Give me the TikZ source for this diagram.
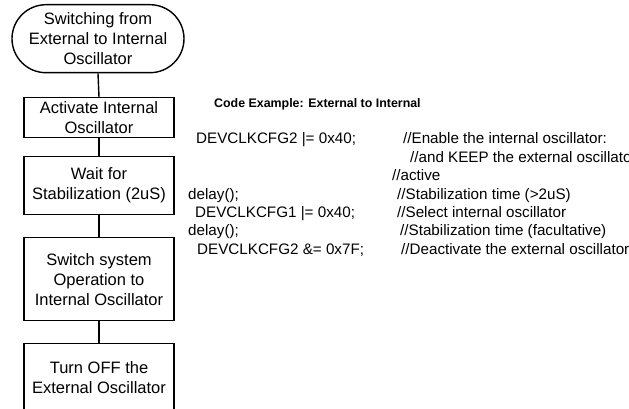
\documentclass[tikz,border=0pt]{standalone}
\usepackage{fontspec}
\setmainfont{Liberation Sans}
\usetikzlibrary{shapes.misc}
\begin{document}
\begin{tikzpicture}[x=1pt,y=-1pt,
  flow/.style={draw=black,line width=1.4pt,align=center,inner sep=0pt,
    font=\fontsize{16.5}{20}\selectfont},
  procbox/.style={flow,rectangle,minimum width=150,anchor=north},
  termbox/.style={flow,rounded rectangle,minimum width=172,minimum height=68,anchor=north},
  link/.style={line width=1.4pt},
  code/.style={anchor=base west,inner sep=0pt,font=\fontsize{15.2}{18}\selectfont},
  head/.style={anchor=base west,inner sep=0pt,font=\fontsize{12.4}{15}\selectfont\bfseries}]
\useasboundingbox (0,0) rectangle (629,409);
\clip (0,0) rectangle (629,409);
\fill[white] (0,0) rectangle (629,409);
% flowchart
\node[termbox] (t) at (98,4) {Switching from\\External to Internal\\Oscillator};
\node[procbox,minimum height=40] (b1) at (99,97) {Activate Internal\\Oscillator};
\node[procbox,minimum height=58] (b2) at (99,156) {Wait for\\Stabilization (2uS)};
\node[procbox,minimum height=83] (b3) at (99,237) {Switch system\\Operation to\\Internal Oscillator};
\node[procbox,minimum height=68] (b4) at (99,343) {Turn OFF the\\External Oscillator};
\draw[link] (t.south) -- (b1.north);
\draw[link] (b1.south) -- (b2.north);
\draw[link] (b2.south) -- (b3.north);
\draw[link] (b3.south) -- (b4.north);
% code
\node[head] (h) at (214,107.5) {Code Example: External to Internal};
\node[code] (c1) at (196,144) {DEVCLKCFG2 |= 0x40;};
\node[code] (m1) at (403,144) {//Enable the internal oscillator:};
\node[code] (m2) at (410,162.3) {//and KEEP the external oscillator};
\node[code] (m3) at (392,180.6) {//active};
\node[code] (c2) at (188,199) {delay();};
\node[code] (m4) at (397,199) {//Stabilization time (>2uS)};
\node[code] (c3) at (195,217.3) {DEVCLKCFG1 |= 0x40;};
\node[code] (m5) at (397,217.3) {//Select internal oscillator};
\node[code] (c4) at (188,235.6) {delay();};
\node[code] (m6) at (400,235.6) {//Stabilization time (facultative)};
\node[code] (c5) at (197,254) {DEVCLKCFG2 \&= 0x7F;};
\node[code] (m7) at (401,254) {//Deactivate the external oscillator};
\end{tikzpicture}
\end{document}
